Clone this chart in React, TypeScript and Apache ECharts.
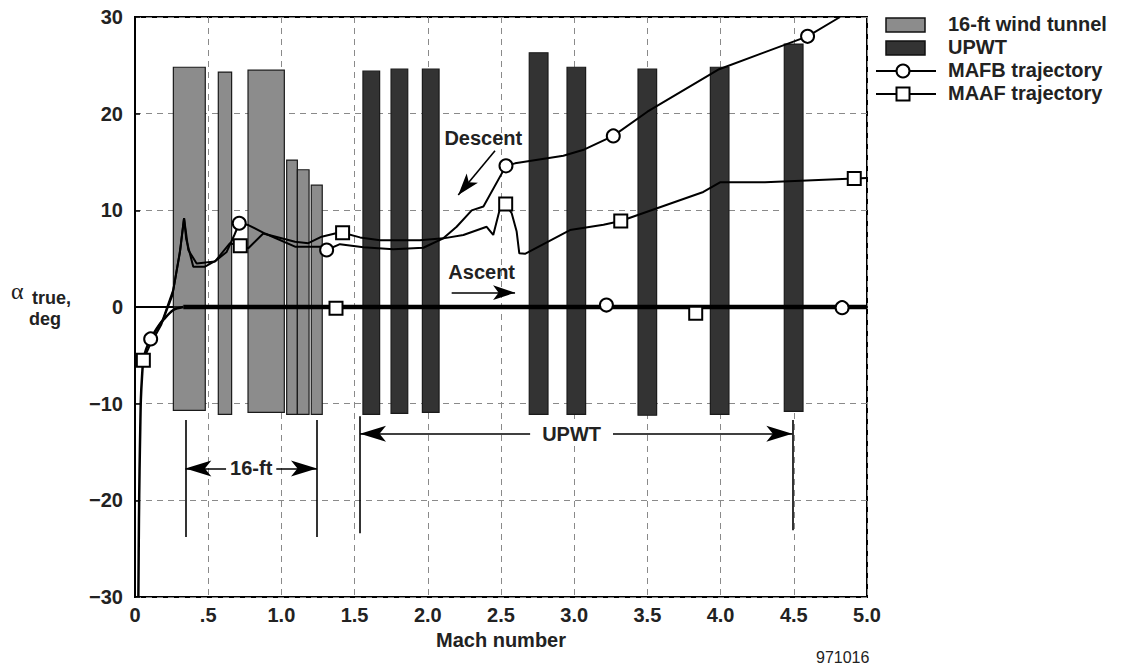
import React, { useEffect, useRef } from 'react';
import * as echarts from 'echarts';

// ---------- axis tick labels ----------
const xTickLabels = ['0', '.5', '1.0', '1.5', '2.0', '2.5', '3.0', '3.5', '4.0', '4.5', '5.0'];
const yTickLabels = ['\u221230', '\u221220', '\u221210', '0', '10', '20', '30'];

// ---------- wind-tunnel test envelopes: [machStart, machEnd, alphaMin, alphaMax] ----------
const tunnel16ft = [
  [0.262, 0.48, -10.7, 24.8],
  [0.569, 0.66, -11.1, 24.3],
  [0.772, 1.02, -10.9, 24.5],
  [1.036, 1.109, -11.1, 15.2],
  [1.109, 1.189, -11.1, 14.2],
  [1.204, 1.279, -11.1, 12.6],
];
const upwt = [
  [1.557, 1.671, -11.1, 24.4],
  [1.749, 1.863, -11.0, 24.6],
  [1.963, 2.077, -10.9, 24.6],
  [2.693, 2.821, -11.1, 26.3],
  [2.951, 3.078, -11.1, 24.8],
  [3.436, 3.563, -11.2, 24.6],
  [3.93, 4.057, -11.1, 24.8],
  [4.435, 4.563, -10.8, 27.2],
];

// ---------- ascent (shared) ----------
const ascentCurve = [
  [0.023, -30], [0.027, -22], [0.031, -17], [0.036, -12.5], [0.04, -9.6], [0.048, -7.2],
  [0.057, -5.5], [0.075, -4.4], [0.107, -3.3], [0.15, -2.2], [0.193, -1.34],
  [0.262, -0.31], [0.33, 0],
];
const ascentLevel = [[0.33, 0], [5.0, 0]];

// ---------- descent trajectories ----------
const mafbDescent = [
  [0.107, -3.3], [0.19, -1.3], [0.262, 1.8], [0.31, 6.0], [0.335, 9.2], [0.35, 7.0],
  [0.398, 4.17], [0.478, 4.17], [0.558, 4.86], [0.626, 5.7], [0.68, 7.5], [0.712, 8.66],
  [0.774, 8.48], [0.888, 7.6], [1.093, 6.24], [1.275, 6.24], [1.309, 5.9], [1.4, 6.5],
  [1.56, 6.17], [1.764, 5.97], [1.969, 6.13], [2.106, 7.1], [2.197, 8.3], [2.3, 10.0],
  [2.38, 10.4], [2.534, 14.6], [2.596, 14.86], [2.926, 15.65], [3.07, 16.3], [3.267, 17.7],
  [3.5, 20.2], [3.99, 24.6], [4.594, 28.0], [4.816, 30.0],
];
const maafDescent = [
  [0.057, -5.5], [0.1, -4.0], [0.18, -1.8], [0.255, 1.2], [0.305, 5.5], [0.335, 9.2],
  [0.364, 5.9], [0.421, 4.5], [0.546, 4.7], [0.649, 6.6], [0.719, 6.34], [0.774, 6.07],
  [0.876, 7.6], [1.093, 6.75], [1.184, 6.6], [1.275, 7.27], [1.366, 7.6], [1.418, 7.68],
  [1.537, 7.2], [1.674, 6.9], [1.947, 6.9], [2.106, 7.1], [2.243, 7.45], [2.402, 8.3],
  [2.447, 7.45], [2.49, 10.0], [2.532, 10.65], [2.573, 9.7], [2.607, 7.8], [2.625, 5.55],
  [2.664, 5.5], [2.971, 7.96], [3.2, 8.5], [3.318, 8.9], [3.882, 11.9], [3.996, 12.9],
  [4.303, 12.9], [4.913, 13.3], [5.0, 13.35],
];

// ---------- markers ----------
const mafbMarkers = [
  [0.107, -3.3], [0.712, 8.66], [1.309, 5.9], [2.534, 14.6], [3.267, 17.7], [4.594, 28.0],
  [3.22, 0.2], [4.83, -0.07],
];
const maafMarkers = [
  [0.057, -5.5], [0.719, 6.34], [1.418, 7.68], [2.532, 10.65], [3.318, 8.9], [4.913, 13.3],
  [1.373, -0.13], [3.83, -0.65],
];

// ---------- annotation texts (data coords) ----------
const annotTexts = ['Descent', 'Ascent', '16-ft', 'UPWT'];
const annotPos = [[2.379, 17.45], [2.368, 3.65], [0.7935, -16.7], [2.982, -13.1]];
const annotPad = [0, 0, 4, 12];

const FONT = '"Liberation Sans", Arial, Helvetica, sans-serif';
const GRAY = '#8c8c8c';
const DARK = '#333333';
const TXT = '#222';

function barSeries(name: string, data: number[][], fill: string) {
  return {
    name,
    type: 'custom',
    z: 2,
    data,
    encode: { x: [0, 1], y: [2, 3] },
    renderItem: (params: any, api: any) => {
      const p0 = api.coord([api.value(0), api.value(3)]);
      const p1 = api.coord([api.value(1), api.value(2)]);
      return {
        type: 'rect',
        shape: { x: p0[0], y: p0[1], width: p1[0] - p0[0], height: p1[1] - p0[1] },
        style: { fill, stroke: '#1a1a1a', lineWidth: 1.2 },
      };
    },
  };
}

export default function App() {
  const ref = useRef<HTMLDivElement>(null);
  useEffect(() => {
    if (!ref.current) return;
    const chart = echarts.init(ref.current, undefined, { renderer: 'svg' });
    const arrowEnd = (coord: number[], size: number[] = [12, 26]) => ({
      coord, symbol: 'arrow', symbolSize: size,
    });
    const plain = (coord: number[]) => ({ coord, symbol: 'none' });
    const option: any = {
      animation: false,
      backgroundColor: '#fff',
      textStyle: { fontFamily: FONT },
      grid: {
        left: 135, top: 17, width: 732, height: 580, containLabel: false,
        show: true, borderColor: '#000', borderWidth: 2, backgroundColor: 'transparent',
      },
      xAxis: {
        type: 'value', min: 0, max: 5, interval: 0.5,
        name: 'Mach number', nameLocation: 'middle', nameGap: 31,
        nameTextStyle: { fontFamily: FONT, fontWeight: 'bold', fontSize: 20, color: TXT },
        axisLine: { show: true, lineStyle: { color: '#000', width: 2 } },
        axisTick: { show: false },
        axisLabel: {
          margin: 8, fontFamily: FONT, fontWeight: 'bold', fontSize: 20, color: TXT,
          formatter: (v: number) => xTickLabels[Math.round(v / 0.5)] ?? '',
        },
        splitLine: { show: true, lineStyle: { color: '#8a8a8a', type: [6, 5], width: 1 } },
      },
      yAxis: {
        type: 'value', min: -30, max: 30, interval: 10,
        axisLine: { show: true, lineStyle: { color: '#000', width: 2 } },
        axisTick: { show: true, inside: true, length: 5, lineStyle: { color: '#000', width: 1.5 } },
        axisLabel: {
          margin: 12, fontFamily: FONT, fontWeight: 'bold', fontSize: 20, color: TXT,
          formatter: (v: number) => yTickLabels[Math.round((v + 30) / 10)] ?? '',
        },
        splitLine: { show: true, lineStyle: { color: '#8a8a8a', type: [6, 5], width: 1 } },
      },
      series: [
        barSeries('16-ft wind tunnel', tunnel16ft, GRAY),
        barSeries('UPWT', upwt, DARK),
        {
          name: 'Ascent curve', type: 'line', data: ascentCurve, showSymbol: false, smooth: 0.3,
          z: 5, lineStyle: { color: '#000', width: 2.5 },
        },
        {
          name: 'Ascent', type: 'line', data: ascentLevel, showSymbol: false, z: 5,
          lineStyle: { color: '#000', width: 4.5 },
          markLine: {
            silent: true, symbol: ['none', 'none'], z: 6,
            lineStyle: { color: '#000', width: 1.6, type: 'solid' },
            label: { show: false },
            data: [
              [plain([0, 0]), plain([0.33, 0])],
              // 16-ft range bracket
              [plain([0.344, -11.7]), plain([0.344, -23.8])],
              [plain([1.243, -11.7]), plain([1.243, -23.8])],
              [arrowEnd([0.344, -16.7]), arrowEnd([1.243, -16.7])],
              // UPWT range bracket
              [plain([1.537, -11.3]), plain([1.537, -23.4])],
              [plain([4.49, -11.7]), plain([4.49, -23.1])],
              [arrowEnd([1.537, -13.1]), arrowEnd([4.49, -13.1])],
              // Descent / Ascent arrows
              [plain([2.459, 16.17]), arrowEnd([2.208, 11.58], [11, 22])],
              [plain([2.163, 1.48]), arrowEnd([2.596, 1.48], [11, 22])],
            ],
          },
        },
        {
          name: 'MAFB descent', type: 'line', data: mafbDescent, showSymbol: false, z: 4,
          lineStyle: { color: '#000', width: 2 },
        },
        {
          name: 'MAAF descent', type: 'line', data: maafDescent, showSymbol: false, z: 4,
          lineStyle: { color: '#000', width: 2 },
        },
        {
          name: 'MAFB trajectory', type: 'scatter', data: mafbMarkers, symbol: 'circle',
          symbolSize: 13, z: 8,
          itemStyle: { color: '#fff', borderColor: '#000', borderWidth: 2, opacity: 1 },
        },
        {
          name: 'MAAF trajectory', type: 'scatter', data: maafMarkers, symbol: 'rect',
          symbolSize: 13, z: 8,
          itemStyle: { color: '#fff', borderColor: '#000', borderWidth: 2, opacity: 1 },
        },
        {
          name: 'annotations', type: 'custom', data: annotPos, z: 9,
          encode: { x: 0, y: 1 },
          renderItem: (params: any, api: any) => {
            const p = api.coord([api.value(0), api.value(1)]);
            const pad = annotPad[params.dataIndex];
            return {
              type: 'text',
              x: p[0], y: p[1],
              z2: 10,
              style: {
                text: annotTexts[params.dataIndex],
                font: `bold 20px ${FONT}`,
                fill: TXT, align: 'center', verticalAlign: 'middle',
                backgroundColor: pad ? '#fff' : undefined,
                padding: pad ? [0, pad] : 0,
              },
            };
          },
        },
      ],
      graphic: [
        // y-axis title
        { type: 'text', left: 11, top: 279, style: { text: '\u03b1', font: `24px "Liberation Serif", "DejaVu Serif", serif`, fill: TXT } },
        { type: 'text', left: 32, top: 289, style: { text: 'true,', font: `bold 18px ${FONT}`, fill: TXT } },
        { type: 'text', left: 29, top: 310, style: { text: 'deg', font: `bold 18px ${FONT}`, fill: TXT } },
        // figure number
        { type: 'text', left: 816, top: 649, style: { text: '971016', font: `16px ${FONT}`, fill: TXT } },
        // legend
        { type: 'rect', shape: { x: 886, y: 18, width: 39, height: 14 }, style: { fill: GRAY, stroke: '#111', lineWidth: 1.5 } },
        { type: 'text', left: 948, top: 14, style: { text: '16-ft wind tunnel', font: `bold 20px ${FONT}`, fill: TXT } },
        { type: 'rect', shape: { x: 886, y: 41, width: 39, height: 14 }, style: { fill: DARK, stroke: '#111', lineWidth: 1.5 } },
        { type: 'text', left: 948, top: 37, style: { text: 'UPWT', font: `bold 20px ${FONT}`, fill: TXT } },
        { type: 'line', shape: { x1: 876, y1: 71, x2: 936, y2: 71 }, style: { stroke: '#000', lineWidth: 2 } },
        { type: 'circle', shape: { cx: 903, cy: 71, r: 6.5 }, style: { fill: '#fff', stroke: '#000', lineWidth: 2 } },
        { type: 'text', left: 948, top: 60, style: { text: 'MAFB trajectory', font: `bold 20px ${FONT}`, fill: TXT } },
        { type: 'line', shape: { x1: 876, y1: 94, x2: 936, y2: 94 }, style: { stroke: '#000', lineWidth: 2 } },
        { type: 'rect', shape: { x: 896.5, y: 87.5, width: 13, height: 13 }, style: { fill: '#fff', stroke: '#000', lineWidth: 2 } },
        { type: 'text', left: 948, top: 83, style: { text: 'MAAF trajectory', font: `bold 20px ${FONT}`, fill: TXT } },
      ],
    };
    chart.setOption(option);
    return () => chart.dispose();
  }, []);
  return (
    <div
      ref={ref}
      style={{ position: 'fixed', left: 0, top: 0, width: 1124, height: 670, background: '#fff' }}
    />
  );
}
